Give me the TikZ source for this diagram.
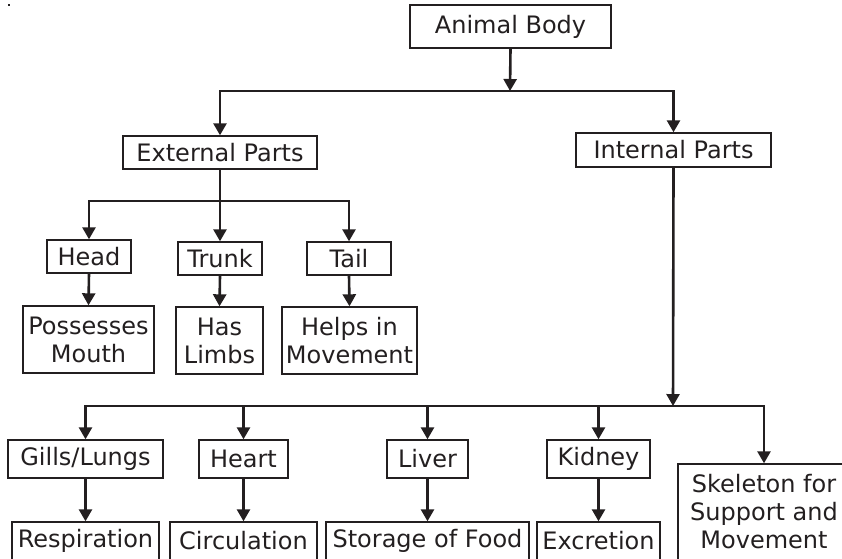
\documentclass[tikz,border=0pt]{standalone}
\usepackage{fontspec}
\setmainfont{DejaVu Sans}
\usetikzlibrary{arrows.meta}
\definecolor{ink}{HTML}{231F20}
\tikzset{
  box/.style={draw=ink, line width=1.4pt, rectangle, inner sep=0pt, align=center,
    text=ink, font=\fontsize{24}{28}\selectfont},
  conn/.style={draw=ink, line width=2.6pt},
  arr/.style={conn, -{Triangle[width=13pt,length=12pt]}},
}
\begin{document}
\begin{tikzpicture}[x=1pt,y=-1pt]
\useasboundingbox (0,0) rectangle (842,558);
\fill[ink] (8,4) rectangle (10,6);
% nodes
\node[box, minimum width=201pt, minimum height=43pt] (ab) at (510.5,26.5) {Animal Body};
\node[box, minimum width=194pt, minimum height=33pt] (ext) at (220,152.5) {External Parts};
\node[box, minimum width=195pt, minimum height=34pt] (int) at (673.5,150) {Internal Parts};
\node[box, minimum width=84pt, minimum height=33pt] (head) at (89,256.5) {Head};
\node[box, minimum width=84pt, minimum height=33pt] (trunk) at (220,258.5) {Trunk};
\node[box, minimum width=84pt, minimum height=33pt] (tail) at (349,258.5) {Tail};
\node[box, minimum width=131pt, minimum height=67pt] (pm) at (88.5,339.5) {Possesses\\Mouth};
\node[box, minimum width=87pt, minimum height=67pt] (hl) at (219.5,340.5) {Has\\Limbs};
\node[box, minimum width=135pt, minimum height=67pt] (him) at (349.5,340.5) {Helps in\\Movement};
\node[box, minimum width=155pt, minimum height=38pt] (gills) at (85.5,459) {Gills/Lungs};
\node[box, minimum width=89pt, minimum height=38pt] (heart) at (243.5,459) {Heart};
\node[box, minimum width=81pt, minimum height=38pt] (liver) at (427.5,459) {Liver};
\node[box, minimum width=103pt, minimum height=38pt] (kidney) at (598.5,459) {Kidney};
\node[box, minimum width=172pt, minimum height=96pt] (skel) at (764,512) {Skeleton for\\Support and\\Movement};
\node[box, minimum width=147pt, minimum height=38pt] (resp) at (85.5,541) {Respiration};
\node[box, minimum width=147pt, minimum height=38pt] (circ) at (243.5,541) {Circulation};
\node[box, minimum width=203pt, minimum height=38pt] (stor) at (427.5,541) {Storage of Food};
\node[box, minimum width=123pt, minimum height=38pt] (excr) at (598.5,541) {Excretion};
% buses
\coordinate (b1) at (510,91);
\coordinate (b2) at (220,201);
\coordinate (b3) at (673,406);
% level 1
\draw[arr] (ab.south) -- (b1);
\draw[conn, line cap=rect] (ext.north |- b1) -- (int.north |- b1);
\draw[arr] (ext.north |- b1) -- (ext.north);
\draw[arr] (int.north |- b1) -- (int.north);
% external
\draw[conn, line cap=rect] (head.north |- b2) -- (tail.north |- b2);
\draw[conn] (ext.south) -- (b2);
\draw[arr] (head.north |- b2) -- (head.north);
\draw[arr] (b2) -- (trunk.north);
\draw[arr] (tail.north |- b2) -- (tail.north);
\draw[arr] (head.south) -- (pm.north);
\draw[arr] (trunk.south) -- (hl.north);
\draw[arr] (tail.south) -- (him.north);
% internal
\draw[arr] (int.south) -- (b3);
\draw[conn, line cap=rect] (gills.north |- b3) -- (skel.north |- b3);
\draw[arr] (gills.north |- b3) -- (gills.north);
\draw[arr] (heart.north |- b3) -- (heart.north);
\draw[arr] (liver.north |- b3) -- (liver.north);
\draw[arr] (kidney.north |- b3) -- (kidney.north);
\draw[arr] (skel.north |- b3) -- (skel.north);
\draw[arr] (gills.south) -- (resp.north);
\draw[arr] (heart.south) -- (circ.north);
\draw[arr] (liver.south) -- (stor.north);
\draw[arr] (kidney.south) -- (excr.north);
\end{tikzpicture}
\end{document}
